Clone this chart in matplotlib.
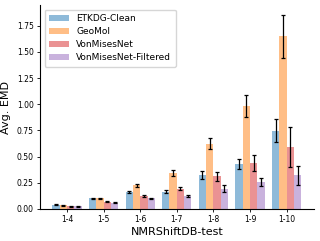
import numpy as np
import matplotlib.pyplot as plt

# atom count ranges
groups = ['1-4', '1-5', '1-6', '1-7', '1-8', '1-9', '1-10']
methods = ['ETKDG-Clean', 'GeoMol', 'VonMisesNet', 'VonMisesNet-Filtered']

etkdg = [0.04, 0.10, 0.165, 0.165, 0.325, 0.43, 0.745]
geomol = [0.035, 0.10, 0.225, 0.345, 0.625, 0.985, 1.65]
vmn = [0.025, 0.07, 0.125, 0.195, 0.31, 0.44, 0.59]
vmn_filt = [0.025, 0.06, 0.10, 0.125, 0.195, 0.255, 0.32]

etkdg_err = [0.004, 0.005, 0.01, 0.015, 0.04, 0.05, 0.11]
geomol_err = [0.003, 0.005, 0.015, 0.03, 0.05, 0.105, 0.205]
vmn_err = [0.003, 0.004, 0.008, 0.015, 0.04, 0.08, 0.19]
vmn_filt_err = [0.003, 0.004, 0.006, 0.012, 0.03, 0.04, 0.09]

values = [etkdg, geomol, vmn, vmn_filt]
errors = [etkdg_err, geomol_err, vmn_err, vmn_filt_err]
colors = ['tab:blue', 'tab:orange', 'tab:red', 'tab:purple']

fig = plt.figure(figsize=(3.2, 2.41), dpi=100)
ax = fig.add_axes([0.125, 0.133, 0.855, 0.846])

x = np.arange(len(groups))
width = 0.2
for i in range(4):
    ax.bar(x + (i - 1.5) * width, values[i], width, yerr=errors[i],
           color=colors[i], alpha=0.5, label=methods[i],
           error_kw=dict(ecolor='black', elinewidth=0.9, capsize=1.5, capthick=0.9))

ax.set_xticks(x)
ax.set_xticklabels(groups)
ax.set_yticks([0, 0.25, 0.5, 0.75, 1.0, 1.25, 1.5, 1.75])
ax.tick_params(labelsize=5.5, length=2.5, width=0.6, pad=2)
ax.set_xlabel('NMRShiftDB-test', fontsize=8, labelpad=2)
ax.set_ylabel('Avg. EMD', fontsize=8, labelpad=4)
ax.spines['top'].set_visible(False)
ax.spines['right'].set_visible(False)
ax.legend(loc='upper left', fontsize=6.5, handlelength=2.2, borderpad=0.5, labelspacing=0.45,
          bbox_to_anchor=(0.0, 1.0))

fig.savefig('out.png', dpi=100)
